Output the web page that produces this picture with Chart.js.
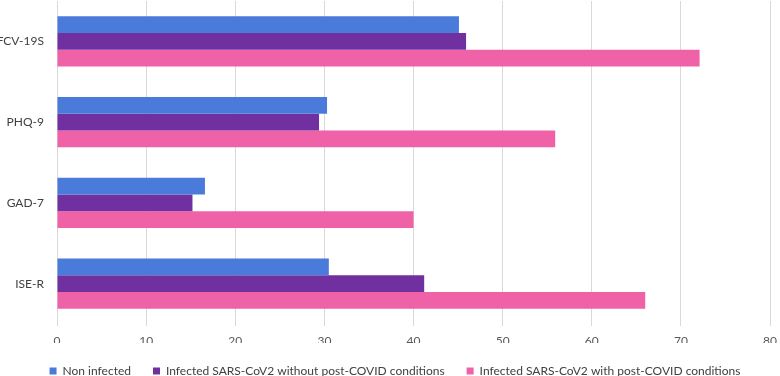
<!DOCTYPE html>
<html>
<head>
<meta charset="utf-8">
<script src="https://cdn.jsdelivr.net/npm/chart.js@4/dist/chart.umd.min.js"></script>
<style>
  html, body { margin: 0; padding: 0; background: #fff; }
  #wrap { width: 780px; height: 376px; }
</style>
</head>
<body>
<div id="wrap"><canvas id="chart"></canvas></div>
<script>
// data

const categories = ['FCV-19S', 'PHQ-9', 'GAD-7', 'ISE-R'];
const nonInfected = [45.1, 30.3, 16.6, 30.5];
const infectedNoPost = [45.9, 29.4, 15.2, 41.2];
const infectedPost = [72.1, 55.9, 40.0, 66.0];
const xTicks = [0, 10, 20, 30, 40, 50, 60, 70, 80];

const ctx = document.getElementById('chart');

// nudge legend a bit right, the original is not quite centred
const legendShift = {
  id: 'legendShift',
  afterLayout: chart => { chart.legend.left += 20; }
};

new Chart(ctx, {
  type: 'bar',
  data: {
    labels: categories,
    datasets: [{
      label: 'Non infected',
      data: nonInfected,
      backgroundColor: '#4a7bda'
    }, {
      label: 'Infected SARS-CoV2 without post-COVID conditions',
      data: infectedNoPost,
      backgroundColor: '#7030a0'
    }, {
      label: 'Infected SARS-CoV2 with post-COVID conditions',
      data: infectedPost,
      backgroundColor: '#f062a8'
    }]
  },
  plugins: [legendShift],
  options: {
    indexAxis: 'y',
    responsive: true,
    maintainAspectRatio: false,
    animation: false,
    categoryPercentage: 0.62,
    barPercentage: 1.0,
    // negative bottom so the legend sits low like the original
    layout: { padding: { top: 1, right: 10, bottom: -11, left: 0 } },
    scales: {
      x: {
        min: 0,
        max: 80,
        afterBuildTicks: scale => { scale.ticks = xTicks.map(v => ({ value: v })); },
        grid: { color: '#d9d9d9', tickLength: 2 },
        border: { display: false },
        ticks: { color: '#595959', font: { family: 'Lato', size: 12 }, padding: 8 },
        afterFit: scale => {
          scale.height = 19;
          scale.paddingLeft = 0;
          scale.paddingRight = 0;
        }
      },
      y: {
        grid: { display: false },
        border: { display: false },
        ticks: { color: '#404040', font: { family: 'Lato', size: 12 }, padding: 5 },
        afterFit: scale => {
          scale.width = 57;
          scale.paddingTop = 0;
          scale.paddingBottom = 0;
        }
      }
    },
    plugins: {
      legend: {
        position: 'bottom',
        labels: {
          color: '#404040',
          font: { family: 'Lato', size: 12 },
          boxWidth: 7,
          boxHeight: 7,
          padding: 22
        }
      },
      tooltip: { enabled: false }
    }
  }
});
</script>
</body>
</html>
